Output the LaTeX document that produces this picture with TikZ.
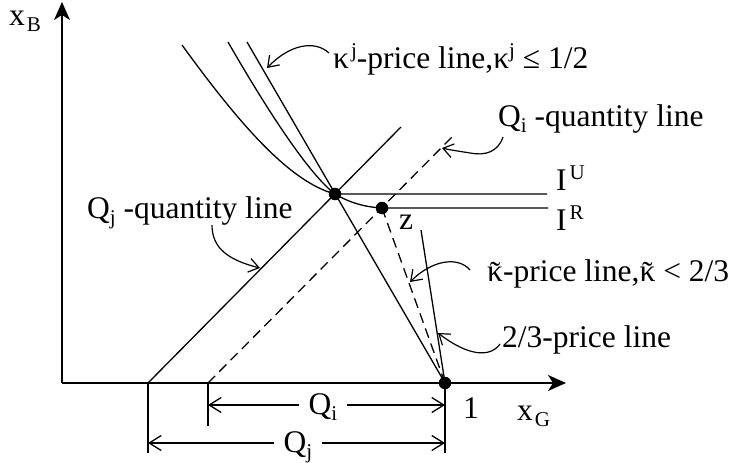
\documentclass[tikz,border=0pt]{standalone}
\usepackage{fontspec}
\setmainfont{Liberation Serif}
\usetikzlibrary{arrows.meta}
\newcommand\mysup[1]{\raisebox{11pt}{\fontsize{21}{21}\selectfont #1}}
\newcommand\mysub[1]{\raisebox{-6pt}{\fontsize{21}{21}\selectfont #1}}
\newcommand\ktil{{\ooalign{κ\cr\hidewidth\raisebox{-2pt}{\char"02DC}\hidewidth\cr}}}
\tikzset{
  lbl/.style={font=\fontsize{31.5}{36}\selectfont, inner sep=0pt, anchor=base west},
  ln/.style={line width=1.3pt},
  dashln/.style={line width=1.3pt, dash pattern=on 10pt off 6pt},
  axis/.style={line width=1.3pt, -{Stealth[length=18pt,width=16pt,inset=5pt]}},
  ptr/.style={line width=1.2pt, -{Straight Barb[length=10pt,width=14pt]}},
  dim/.style={line width=1.3pt, {Straight Barb[length=12pt,width=15pt]}-{Straight Barb[length=12pt,width=15pt]}},
  dot/.style={circle, fill=black, inner sep=0pt, minimum size=12.5pt},
}
\begin{document}
\begin{tikzpicture}[x=1pt,y=-1pt]
\useasboundingbox (0,0) rectangle (732,463);
% key points
\coordinate (O) at (62,383);
\coordinate (ytop) at (62,2);
\coordinate (xend) at (566,383);
\coordinate (E) at (335,194);
\coordinate (Z) at (382,208);
\coordinate (one) at (445,383);
\coordinate (qj0) at (148,383);
\coordinate (qjtop) at (401,127);
\coordinate (qi0) at (208,383);
\coordinate (qitop) at (454,135);
\coordinate (pltop) at (247,42);
\coordinate (ttop) at (421,230);
\coordinate (IUs) at (182,45);
\coordinate (IUe) at (547,194);
\coordinate (IRs) at (228,42);
\coordinate (IRe) at (548,208);
\coordinate (tj) at (148,453);
\coordinate (ti) at (208,426);
\coordinate (t1) at (445,453);
% axes
\draw[axis] (O) -- (ytop);
\draw[axis] (O) -- (xend);
% quantity lines
\draw[ln] (qj0) -- (qjtop);
\draw[dashln] (qi0) -- (qitop);
% price lines
\draw[ln] (one) -- (pltop);
\draw[ln] (one) -- (ttop);
\draw[dashln] (one) -- (Z);
% indifference curves
\draw[ln] (IUs) .. controls (240,125) and (290,182) .. (E) -- (IUe);
\draw[ln] (IRs) .. controls (270,115) and (310,175) .. (E) .. controls (350,203) and (365,207) .. (Z) -- (IRe);
% dots
\node[dot] (dE) at (E) {};
\node[dot] (dZ) at (Z) {};
\node[dot] (d1) at (one) {};
% ticks
\draw[ln] (qj0) -- (tj);
\draw[ln] (qi0) -- (ti);
\draw[ln] (one) -- (t1);
% dimension arrows
\coordinate (ai1) at (208,405);
\coordinate (ai2) at (445,405);
\coordinate (aj1) at (148,443);
\coordinate (aj2) at (445,443);
\draw[dim] (ai1) -- (ai2);
\draw[dim] (aj1) -- (aj2);
\node[lbl, anchor=base, fill=white, inner xsep=10pt] (LQi) at (323,414) {Q\mysub{i}};
\node[lbl, anchor=base, fill=white, inner xsep=10pt] (LQj) at (298,452) {Q\mysub{j}};
% labels
\node[lbl] (xB) at (9,25) {x\hspace{2pt}\mysub{B}};
\node[lbl] (xG) at (517,420) {x\hspace{2pt}\mysub{G}};
\node[lbl] (L1) at (463,418) {1};
\node[lbl] (Lz) at (399,229) {z};
\node[lbl] (LIU) at (556,190) {I\hspace{3pt}\mysup{U}};
\node[lbl] (LIR) at (556,230) {I\hspace{3pt}\mysup{R}};
\node[lbl] (Lkj) at (333,68) {κ\hspace{2pt}\mysup{j}-price line,κ\mysup{j} ≤ 1/2};
\node[lbl] (LQiq) at (498,126) {Q\mysub{i} -quantity line};
\node[lbl] (LQjq) at (87,218) {Q\mysub{j} -quantity line};
\node[lbl] (Lkt) at (487,281) {\ktil-price line,\ktil{} < 2/3};
\node[lbl] (L23) at (502,347) {2/3-price line};
% pointer arrows
\coordinate (pk0) at (329,53);
\coordinate (pk1) at (267,68);
\draw[ptr] (pk0) .. controls (315,40) and (290,44) .. (pk1);
\coordinate (pqi0) at (503,137);
\coordinate (pqi1) at (442,148);
\draw[ptr] (pqi0) .. controls (498,152) and (485,156) .. (470,153) .. controls (458,151) and (450,150) .. (pqi1);
\coordinate (pqj0) at (212,225);
\coordinate (pqj1) at (260,268);
\draw[ptr] (pqj0) .. controls (212,248) and (228,260) .. (pqj1);
\coordinate (pkt0) at (470,270);
\coordinate (pkt1) at (410,282);
\draw[ptr] (pkt0) .. controls (458,256) and (432,260) .. (pkt1);
\coordinate (p230) at (500,344);
\coordinate (p231) at (438,333);
\draw[ptr] (p230) .. controls (490,358) and (468,356) .. (p231);
\end{tikzpicture}
\end{document}
